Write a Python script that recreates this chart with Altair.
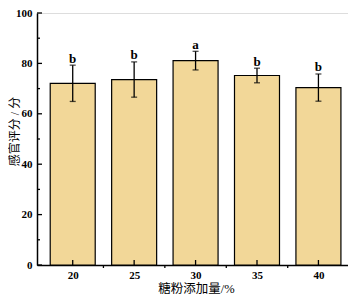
import altair as alt
import pandas as pd

levels = [20, 25, 30, 35, 40]
scores = [72.1, 73.6, 81.1, 75.2, 70.4]
errors = [7.2, 7.0, 3.7, 2.9, 5.4]
letters = ["b", "b", "a", "b", "b"]

major_y = [0, 20, 40, 60, 80, 100]
minor_y = [10, 30, 50, 70, 90]
minor_x = [22.5, 27.5, 32.5, 37.5]

df = pd.DataFrame({"level": levels, "score": scores, "err": errors, "letter": letters})
df["lo"] = df["score"] - df["err"]
df["hi"] = df["score"] + df["err"]

W, H = 311, 252
xs = alt.Scale(domain=[17.5, 42.0], nice=False, zero=False)
ys = alt.Scale(domain=[0, 100], nice=False)

num_font = "Liberation Serif"
title_font = "Liberation Serif, Noto Sans CJK SC"

xaxis = alt.Axis(values=levels, format="d", ticks=False, domainColor="black", domainWidth=1.5,
                 labelFont=num_font, labelFontWeight="bold", labelFontSize=11, labelColor="black",
                 labelPadding=4, title="糖粉添加量/%", titleFont=title_font, titleFontSize=12.5,
                 titleFontWeight="normal", titleColor="black", titleX=159, titleY=30,
                 titleAlign="center", titleBaseline="bottom", grid=False)
yaxis = alt.Axis(values=major_y, ticks=False, domainColor="black", domainWidth=1.5,
                 labelFont=num_font, labelFontWeight="bold", labelFontSize=11, labelColor="black",
                 labelPadding=5, title="感官评分 / 分", titleFont=title_font, titleFontSize=12,
                 titleFontWeight="normal", titleColor="black", titleX=-23, titleY=118,
                 titleAlign="center", titleBaseline="middle", titleAngle=270, grid=False)

base = alt.Chart(df)

bars = base.mark_bar(size=45, color="#F2D798", stroke="black", strokeWidth=1.2).encode(
    x=alt.X("level:Q", scale=xs, axis=xaxis),
    y=alt.Y("score:Q", scale=ys, axis=yaxis),
)
rules = base.mark_rule(color="black", strokeWidth=1.3).encode(
    x=alt.X("level:Q", scale=xs), y=alt.Y("lo:Q", scale=ys), y2="hi:Q")
caps_hi = base.mark_tick(color="black", thickness=1.3, size=6, orient="horizontal").encode(
    x=alt.X("level:Q", scale=xs), y=alt.Y("hi:Q", scale=ys))
caps_lo = base.mark_tick(color="black", thickness=1.3, size=6, orient="horizontal").encode(
    x=alt.X("level:Q", scale=xs), y=alt.Y("lo:Q", scale=ys))
labels = base.mark_text(font=num_font, fontWeight="bold", fontSize=13, dy=-2.5,
                        baseline="alphabetic", color="black").encode(
    x=alt.X("level:Q", scale=xs), y=alt.Y("hi:Q", scale=ys), text="letter:N")

ymaj = alt.Chart(pd.DataFrame({"v": major_y})).mark_rule(color="black", strokeWidth=1.3).encode(
    y=alt.Y("v:Q", scale=ys), x=alt.value(0), x2=alt.value(5))
ymin = alt.Chart(pd.DataFrame({"v": minor_y})).mark_rule(color="black", strokeWidth=1.3).encode(
    y=alt.Y("v:Q", scale=ys), x=alt.value(0), x2=alt.value(3))
xmaj = alt.Chart(pd.DataFrame({"v": levels})).mark_rule(color="black", strokeWidth=1.3).encode(
    x=alt.X("v:Q", scale=xs), y=alt.value(H), y2=alt.value(H - 5))
xmin = alt.Chart(pd.DataFrame({"v": minor_x})).mark_rule(color="black", strokeWidth=1.3).encode(
    x=alt.X("v:Q", scale=xs), y=alt.value(H), y2=alt.value(H + 3))

chart = alt.layer(bars, rules, caps_hi, caps_lo, labels, ymaj, ymin, xmaj, xmin).properties(
    width=W, height=H,
    autosize=alt.AutoSizeParams(type="none"),
    padding={"left": 29, "top": 5, "right": 0, "bottom": 30},
).configure_view(stroke=None).configure(background="white")

chart.save("out.html", embed_options={"renderer": "svg", "actions": False})
